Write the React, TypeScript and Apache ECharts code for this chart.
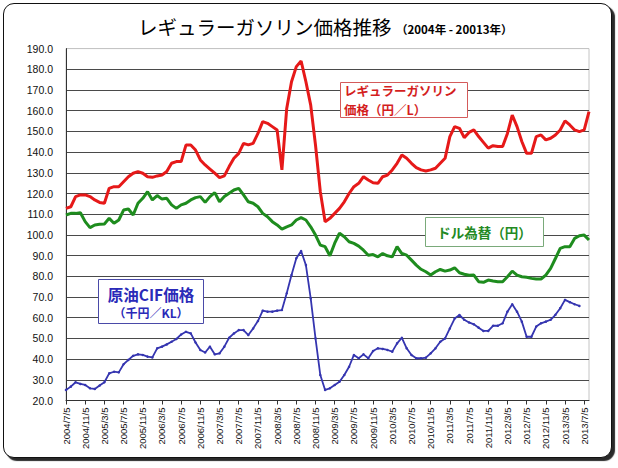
import React, { useEffect, useRef } from "react";
import * as echarts from "echarts";

const START_YEAR = 2004;
const START_MONTH = 7;
const MONTH_COUNT = 110;

// レギュラーガソリン価格（円／L）
const gasoline = [
  112.8, 113.6, 118.5, 119.3, 119.3, 118.5, 116.9, 115.7, 115.3, 122.5,
  123.3, 123.3, 125.7, 128.1, 129.8, 130.6, 129.8, 128.1, 127.8, 128.5,
  128.9, 130.6, 134.6, 135.4, 135.4, 143.4, 143.4, 141.0, 136.2, 133.8,
  131.8, 129.8, 127.7, 128.5, 133.0, 137.0, 139.4, 144.2, 143.5, 144.2,
  149.0, 154.7, 153.9, 152.3, 150.7, 131.4, 161.1, 174.0, 181.3, 184.0,
  174.0, 162.7, 143.4, 120.9, 106.4, 108.0, 110.4, 112.8, 116.0, 120.0,
  123.3, 124.9, 128.1, 126.5, 125.2, 124.9, 128.1, 128.9, 131.4, 134.6,
  138.6, 137.0, 134.6, 132.5, 131.4, 130.9, 131.4, 132.2, 134.6, 137.0,
  147.5, 152.3, 151.5, 147.0, 149.5, 150.7, 147.5, 144.7, 141.9, 143.1,
  142.7, 142.7, 149.0, 157.9, 152.3, 145.1, 139.4, 139.4, 147.5, 148.3,
  145.9, 146.7, 148.3, 150.7, 155.1, 153.1, 150.7, 149.9, 150.7, 159.5,
];

// ドル為替（円）
const dollarYen = [
  109.6, 110.4, 110.4, 110.7, 106.4, 103.5, 104.8, 105.1, 105.3, 108.0,
  105.6, 107.2, 112.0, 112.5, 109.6, 115.3, 117.7, 120.9, 116.9, 119.0,
  117.3, 117.7, 114.5, 112.8, 114.5, 115.3, 116.9, 118.0, 118.5, 115.7,
  118.5, 120.4, 116.0, 118.5, 120.1, 121.7, 122.5, 119.3, 116.0, 115.3,
  113.6, 110.4, 108.8, 106.4, 104.8, 102.8, 103.9, 104.8, 107.2, 108.3,
  107.2, 103.9, 99.9, 95.1, 94.3, 89.9, 96.0, 100.8, 99.1, 96.7,
  95.9, 94.6, 92.6, 90.2, 90.5, 89.4, 91.0, 89.9, 89.4, 94.3,
  91.0, 90.2, 87.8, 85.4, 83.4, 82.2, 80.6, 82.2, 83.3, 82.5,
  83.0, 84.1, 81.7, 81.0, 80.5, 80.6, 77.4, 77.1, 78.2, 77.7,
  77.4, 77.4, 79.8, 82.5, 80.6, 79.8, 79.5, 79.0, 78.7, 78.7,
  80.6, 83.8, 88.6, 93.5, 94.3, 94.3, 98.3, 99.6, 99.9, 97.5,
];

// 原油CIF価格（千円／KL）
const crudeCIF = [
  25.1, 26.7, 28.8, 28.0, 27.5, 25.9, 25.6, 27.2, 28.8, 33.1,
  33.9, 33.6, 37.5, 39.6, 41.6, 42.3, 42.0, 41.2, 40.8, 45.2,
  46.0, 47.1, 48.4, 49.7, 51.9, 53.2, 52.4, 48.0, 44.4, 43.2,
  46.0, 42.3, 42.8, 46.0, 50.3, 52.4, 54.0, 54.0, 51.6, 54.8,
  58.4, 63.4, 62.9, 62.9, 63.4, 63.7, 71.8, 80.6, 88.7, 92.2,
  85.4, 69.3, 50.0, 32.3, 25.1, 25.9, 27.5, 29.1, 32.3, 36.3,
  42.0, 40.4, 42.3, 40.4, 43.9, 45.2, 44.9, 44.4, 43.6, 47.6,
  50.3, 45.2, 42.0, 40.4, 40.4, 40.7, 42.8, 45.2, 48.4, 50.0,
  54.8, 59.6, 61.3, 59.0, 57.7, 56.8, 55.2, 53.6, 53.6, 56.1,
  56.1, 57.3, 62.9, 66.5, 62.9, 58.1, 50.8, 50.8, 55.7, 57.3,
  58.1, 59.0, 61.4, 64.6, 68.6, 67.5, 66.5, 65.7,
];

const Y_MIN = 20;
const Y_MAX = 190;
const Y_STEP = 10;

const categories: string[] = [];
for (let k = 0; k < MONTH_COUNT; k++) {
  const m0 = START_MONTH - 1 + k;
  categories.push(`${START_YEAR + Math.floor(m0 / 12)}/${(m0 % 12) + 1}/5`);
}

const RED = "#e61919";
const GREEN = "#1e8c1e";
const BLUE = "#3535b0";
const JP = "'Noto Sans CJK JP', sans-serif";
const LAT = "'Liberation Sans', Arial, sans-serif";

export default function App() {
  const ref = useRef<HTMLDivElement>(null);
  useEffect(() => {
    if (!ref.current) return;
    const chart = echarts.init(ref.current, undefined, { renderer: "svg" });
    const nLines = (Y_MAX - Y_MIN) / Y_STEP + 1;
    const splitColors = Array.from({ length: nLines }, (_, i) =>
      i === nLines - 1 ? "#c4c4c4" : "#4a4a4a"
    );
    chart.setOption({
      animation: false,
      grid: {
        left: 66,
        right: 29,
        top: 48.6,
        bottom: 67.5,
        show: true,
        borderColor: "#c4c4c4",
        borderWidth: 1,
        backgroundColor: "#fff",
      },
      xAxis: {
        type: "category",
        data: categories,
        boundaryGap: false,
        axisLine: { show: true, lineStyle: { color: "#333", width: 1 } },
        axisTick: {
          show: true,
          interval: 3,
          length: 4,
          inside: false,
          lineStyle: { color: "#333" },
        },
        axisLabel: {
          interval: 3,
          rotate: 90,
          margin: 7,
          fontSize: 9.5,
          fontFamily: LAT,
          color: "#111",
        },
        splitLine: { show: false },
      },
      yAxis: {
        type: "value",
        min: Y_MIN,
        max: Y_MAX,
        interval: Y_STEP,
        axisLine: { show: true, lineStyle: { color: "#333", width: 1 } },
        axisTick: { show: false },
        axisLabel: {
          formatter: (v: number) => v.toFixed(1),
          fontSize: 10.5,
          fontFamily: LAT,
          color: "#111",
          margin: 13,
        },
        splitLine: { show: true, lineStyle: { color: splitColors, width: 1 } },
      },
      series: [
        {
          name: "gasoline",
          type: "line",
          data: gasoline,
          showSymbol: false,
          lineStyle: { color: RED, width: 3 },
          itemStyle: { color: RED },
          z: 4,
        },
        {
          name: "dollar",
          type: "line",
          data: dollarYen,
          showSymbol: false,
          lineStyle: { color: GREEN, width: 3 },
          itemStyle: { color: GREEN },
          z: 3,
        },
        {
          name: "crude",
          type: "line",
          data: crudeCIF,
          showSymbol: true,
          symbol: "circle",
          symbolSize: 2.5,
          lineStyle: { color: BLUE, width: 1.8 },
          itemStyle: { color: BLUE },
          z: 2,
        },
      ],
      graphic: [
        {
          type: "text",
          left: 138,
          top: 17,
          z: 100,
          style: {
            text: "レギュラーガソリン価格推移",
            fontSize: 19.5,
            fontFamily: JP,
            fill: "#000",
          },
        },
        {
          type: "text",
          left: 396,
          top: 23,
          z: 100,
          style: {
            text: "（2004年 - 20013年）",
            fontSize: 11.5,
            fontWeight: "bold",
            fontFamily: JP,
            fill: "#000",
          },
        },
        {
          type: "rect",
          z: 100,
          shape: { x: 340.5, y: 82.5, width: 127, height: 35 },
          style: { fill: "#fff", stroke: "#d45a5a", lineWidth: 1 },
        },
        {
          type: "text",
          z: 101,
          x: 344,
          y: 90.8,
          style: {
            text: "レギュラーガソリン",
            fontSize: 12.5,
            lineHeight: 13,
            fontWeight: "bold",
            fontFamily: JP,
            fill: "#d41e1e",
            verticalAlign: "middle",
          },
        },
        {
          type: "text",
          z: 101,
          x: 344,
          y: 109.3,
          style: {
            text: "価格（円／L）",
            fontSize: 12.5,
            lineHeight: 13,
            fontWeight: "bold",
            fontFamily: JP,
            fill: "#d41e1e",
            verticalAlign: "middle",
          },
        },
        {
          type: "rect",
          z: 100,
          shape: { x: 425.5, y: 217.5, width: 118, height: 29 },
          style: { fill: "#fff", stroke: "#7aaa7a", lineWidth: 1 },
        },
        {
          type: "text",
          z: 101,
          x: 484.5,
          y: 232,
          style: {
            text: "ドル為替（円）",
            fontSize: 13.5,
            fontWeight: "bold",
            fontFamily: JP,
            fill: "#238a23",
            align: "center",
            verticalAlign: "middle",
          },
        },
        {
          type: "rect",
          z: 100,
          shape: { x: 98.5, y: 279.5, width: 105, height: 44 },
          style: { fill: "#fff", stroke: "#4a4aa8", lineWidth: 1 },
        },
        {
          type: "text",
          z: 101,
          x: 151,
          y: 293.5,
          style: {
            text: "原油CIF価格",
            fontSize: 15.5,
            lineHeight: 16,
            fontWeight: "bold",
            fontFamily: JP,
            fill: "#2a2ab8",
            align: "center",
            verticalAlign: "middle",
          },
        },
        {
          type: "text",
          z: 101,
          x: 151,
          y: 312.5,
          style: {
            text: "（千円／KL）",
            fontSize: 12,
            lineHeight: 13,
            fontWeight: "bold",
            fontFamily: JP,
            fill: "#2a2ab8",
            align: "center",
            verticalAlign: "middle",
          },
        },
      ],
    });
    return () => chart.dispose();
  }, []);

  return (
    <div
      style={{
        position: "fixed",
        left: 0,
        top: 0,
        width: 618,
        height: 468,
        background: "#fff",
        overflow: "hidden",
      }}
    >
      <div
        style={{
          position: "absolute",
          left: 3,
          top: 3,
          width: 609,
          height: 455,
          boxSizing: "border-box",
          border: "1.5px solid #111",
          borderRadius: 11,
          boxShadow: "3px 3px 1px #2a2a2a",
          background: "#fff",
        }}
      />
      <div
        ref={ref}
        style={{ position: "absolute", left: 0, top: 0, width: 618, height: 468 }}
      />
    </div>
  );
}
